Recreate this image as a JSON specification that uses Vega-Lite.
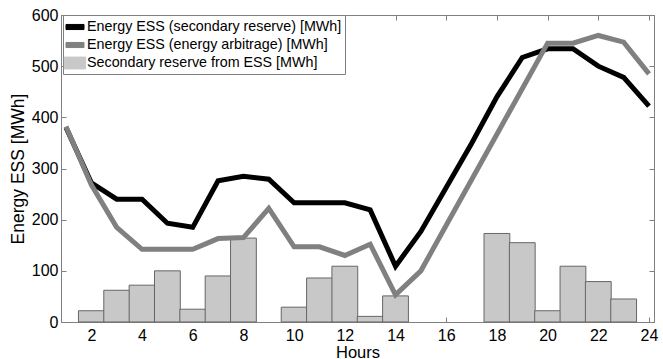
{
  "$schema": "https://vega.github.io/schema/vega-lite/v6.json",
  "width": 593,
  "height": 307,
  "autosize": {"type": "none"},
  "padding": {"left": 61, "top": 15, "right": 9, "bottom": 37},
  "background": "white",
  "config": {
    "font": "Liberation Sans",
    "view": {"stroke": "#808080", "strokeWidth": 1},
    "axis": {
      "domainColor": "#808080",
      "tickColor": "#808080",
      "grid": false,
      "labelFont": "Liberation Sans",
      "labelFontSize": 16,
      "labelColor": "#000000",
      "titleFont": "Liberation Sans",
      "titleFontSize": 16.5,
      "titleFontWeight": "normal",
      "titleColor": "#000000",
      "tickSize": -5
    }
  },
  "datasets": {
    "bars": [
      {"hour": 2, "value": 22, "series": "Secondary reserve from ESS [MWh]"},
      {"hour": 3, "value": 62, "series": "Secondary reserve from ESS [MWh]"},
      {"hour": 4, "value": 72, "series": "Secondary reserve from ESS [MWh]"},
      {"hour": 5, "value": 100, "series": "Secondary reserve from ESS [MWh]"},
      {"hour": 6, "value": 25, "series": "Secondary reserve from ESS [MWh]"},
      {"hour": 7, "value": 90, "series": "Secondary reserve from ESS [MWh]"},
      {"hour": 8, "value": 164, "series": "Secondary reserve from ESS [MWh]"},
      {"hour": 10, "value": 29, "series": "Secondary reserve from ESS [MWh]"},
      {"hour": 11, "value": 86, "series": "Secondary reserve from ESS [MWh]"},
      {"hour": 12, "value": 109, "series": "Secondary reserve from ESS [MWh]"},
      {"hour": 13, "value": 11, "series": "Secondary reserve from ESS [MWh]"},
      {"hour": 14, "value": 51, "series": "Secondary reserve from ESS [MWh]"},
      {"hour": 18, "value": 173, "series": "Secondary reserve from ESS [MWh]"},
      {"hour": 19, "value": 155, "series": "Secondary reserve from ESS [MWh]"},
      {"hour": 20, "value": 22, "series": "Secondary reserve from ESS [MWh]"},
      {"hour": 21, "value": 109, "series": "Secondary reserve from ESS [MWh]"},
      {"hour": 22, "value": 79, "series": "Secondary reserve from ESS [MWh]"},
      {"hour": 23, "value": 45, "series": "Secondary reserve from ESS [MWh]"}
    ],
    "lines": [
      {"hour": 1, "value": 380, "series": "Energy ESS (secondary reserve) [MWh]"},
      {"hour": 2, "value": 272, "series": "Energy ESS (secondary reserve) [MWh]"},
      {"hour": 3, "value": 240, "series": "Energy ESS (secondary reserve) [MWh]"},
      {"hour": 4, "value": 240, "series": "Energy ESS (secondary reserve) [MWh]"},
      {"hour": 5, "value": 193, "series": "Energy ESS (secondary reserve) [MWh]"},
      {"hour": 6, "value": 185, "series": "Energy ESS (secondary reserve) [MWh]"},
      {"hour": 7, "value": 276, "series": "Energy ESS (secondary reserve) [MWh]"},
      {"hour": 8, "value": 285, "series": "Energy ESS (secondary reserve) [MWh]"},
      {"hour": 9, "value": 279, "series": "Energy ESS (secondary reserve) [MWh]"},
      {"hour": 10, "value": 233, "series": "Energy ESS (secondary reserve) [MWh]"},
      {"hour": 11, "value": 233, "series": "Energy ESS (secondary reserve) [MWh]"},
      {"hour": 12, "value": 233, "series": "Energy ESS (secondary reserve) [MWh]"},
      {"hour": 13, "value": 219, "series": "Energy ESS (secondary reserve) [MWh]"},
      {"hour": 14, "value": 109, "series": "Energy ESS (secondary reserve) [MWh]"},
      {"hour": 15, "value": 177, "series": "Energy ESS (secondary reserve) [MWh]"},
      {"hour": 16, "value": 263, "series": "Energy ESS (secondary reserve) [MWh]"},
      {"hour": 17, "value": 349, "series": "Energy ESS (secondary reserve) [MWh]"},
      {"hour": 18, "value": 440, "series": "Energy ESS (secondary reserve) [MWh]"},
      {"hour": 19, "value": 517, "series": "Energy ESS (secondary reserve) [MWh]"},
      {"hour": 20, "value": 534, "series": "Energy ESS (secondary reserve) [MWh]"},
      {"hour": 21, "value": 534, "series": "Energy ESS (secondary reserve) [MWh]"},
      {"hour": 22, "value": 500, "series": "Energy ESS (secondary reserve) [MWh]"},
      {"hour": 23, "value": 478, "series": "Energy ESS (secondary reserve) [MWh]"},
      {"hour": 24, "value": 422, "series": "Energy ESS (secondary reserve) [MWh]"},
      {"hour": 1, "value": 382, "series": "Energy ESS (energy arbitrage) [MWh]"},
      {"hour": 2, "value": 268, "series": "Energy ESS (energy arbitrage) [MWh]"},
      {"hour": 3, "value": 185, "series": "Energy ESS (energy arbitrage) [MWh]"},
      {"hour": 4, "value": 142, "series": "Energy ESS (energy arbitrage) [MWh]"},
      {"hour": 5, "value": 142, "series": "Energy ESS (energy arbitrage) [MWh]"},
      {"hour": 6, "value": 142, "series": "Energy ESS (energy arbitrage) [MWh]"},
      {"hour": 7, "value": 163, "series": "Energy ESS (energy arbitrage) [MWh]"},
      {"hour": 8, "value": 165, "series": "Energy ESS (energy arbitrage) [MWh]"},
      {"hour": 9, "value": 222, "series": "Energy ESS (energy arbitrage) [MWh]"},
      {"hour": 10, "value": 147, "series": "Energy ESS (energy arbitrage) [MWh]"},
      {"hour": 11, "value": 147, "series": "Energy ESS (energy arbitrage) [MWh]"},
      {"hour": 12, "value": 130, "series": "Energy ESS (energy arbitrage) [MWh]"},
      {"hour": 13, "value": 152, "series": "Energy ESS (energy arbitrage) [MWh]"},
      {"hour": 14, "value": 53, "series": "Energy ESS (energy arbitrage) [MWh]"},
      {"hour": 15, "value": 100, "series": "Energy ESS (energy arbitrage) [MWh]"},
      {"hour": 16, "value": 189, "series": "Energy ESS (energy arbitrage) [MWh]"},
      {"hour": 17, "value": 278, "series": "Energy ESS (energy arbitrage) [MWh]"},
      {"hour": 18, "value": 367, "series": "Energy ESS (energy arbitrage) [MWh]"},
      {"hour": 19, "value": 456, "series": "Energy ESS (energy arbitrage) [MWh]"},
      {"hour": 20, "value": 545, "series": "Energy ESS (energy arbitrage) [MWh]"},
      {"hour": 21, "value": 545, "series": "Energy ESS (energy arbitrage) [MWh]"},
      {"hour": 22, "value": 560, "series": "Energy ESS (energy arbitrage) [MWh]"},
      {"hour": 23, "value": 547, "series": "Energy ESS (energy arbitrage) [MWh]"},
      {"hour": 24, "value": 485, "series": "Energy ESS (energy arbitrage) [MWh]"}
    ]
  },
  "layer": [
    {
      "data": {"name": "bars"},
      "mark": {"type": "bar", "size": 25.8, "stroke": "#666666", "strokeWidth": 1},
      "encoding": {
        "x": {
          "field": "hour", "type": "quantitative",
          "scale": {"domain": [1, 24], "nice": false, "zero": false},
          "axis": {"orient": "bottom", "values": [2, 4, 6, 8, 10, 12, 14, 16, 18, 20, 22, 24], "title": "Hours", "labelPadding": 10, "titlePadding": 1}
        },
        "y": {
          "field": "value", "type": "quantitative",
          "scale": {"domain": [0, 600], "nice": false},
          "axis": {"orient": "left", "values": [0, 100, 200, 300, 400, 500, 600], "title": "Energy ESS [MWh]", "labelPadding": 8, "titlePadding": 4, "titleFontSize": 17.5}
        },
        "color": {
          "field": "series", "type": "nominal",
          "scale": {
            "domain": ["Energy ESS (secondary reserve) [MWh]", "Energy ESS (energy arbitrage) [MWh]", "Secondary reserve from ESS [MWh]"],
            "range": ["#000000", "#808080", "#c8c8c8"]
          },
          "legend": {
            "title": null,
            "orient": "none",
            "legendX": 2,
            "legendY": 0,
            "fillColor": "white",
            "strokeColor": "#808080",
            "padding": 3,
            "labelFont": "Liberation Sans",
            "labelFontSize": 14.3,
            "labelColor": "#000000",
            "labelOffset": 3,
            "symbolSize": 289,
            "symbolStrokeWidth": 1,
            "symbolType": {"expr": "datum.value === 'Secondary reserve from ESS [MWh]' ? 'M-1.25,-0.7H1.25V0.7H-1.25Z' : 'M-1.06,-0.3H1.06V0.3H-1.06Z'"},
            "symbolStrokeColor": {"expr": "datum.value === 'Secondary reserve from ESS [MWh]' ? '#777777' : scale('color', datum.value)"},
            "rowPadding": 1,
            "labelLimit": 400
          }
        }
      }
    },
    {
      "data": {"name": "lines"},
      "mark": {"type": "line", "strokeWidth": 5},
      "encoding": {
        "x": {
          "field": "hour", "type": "quantitative",
          "scale": {"domain": [1, 24], "nice": false, "zero": false},
          "axis": {"orient": "top", "values": [2, 4, 6, 8, 10, 12, 14, 16, 18, 20, 22, 24], "labels": false, "title": null}
        },
        "y": {
          "field": "value", "type": "quantitative",
          "scale": {"domain": [0, 600], "nice": false},
          "axis": {"orient": "right", "values": [0, 100, 200, 300, 400, 500, 600], "labels": false, "title": null}
        },
        "color": {"field": "series", "type": "nominal"}
      }
    }
  ]
}
